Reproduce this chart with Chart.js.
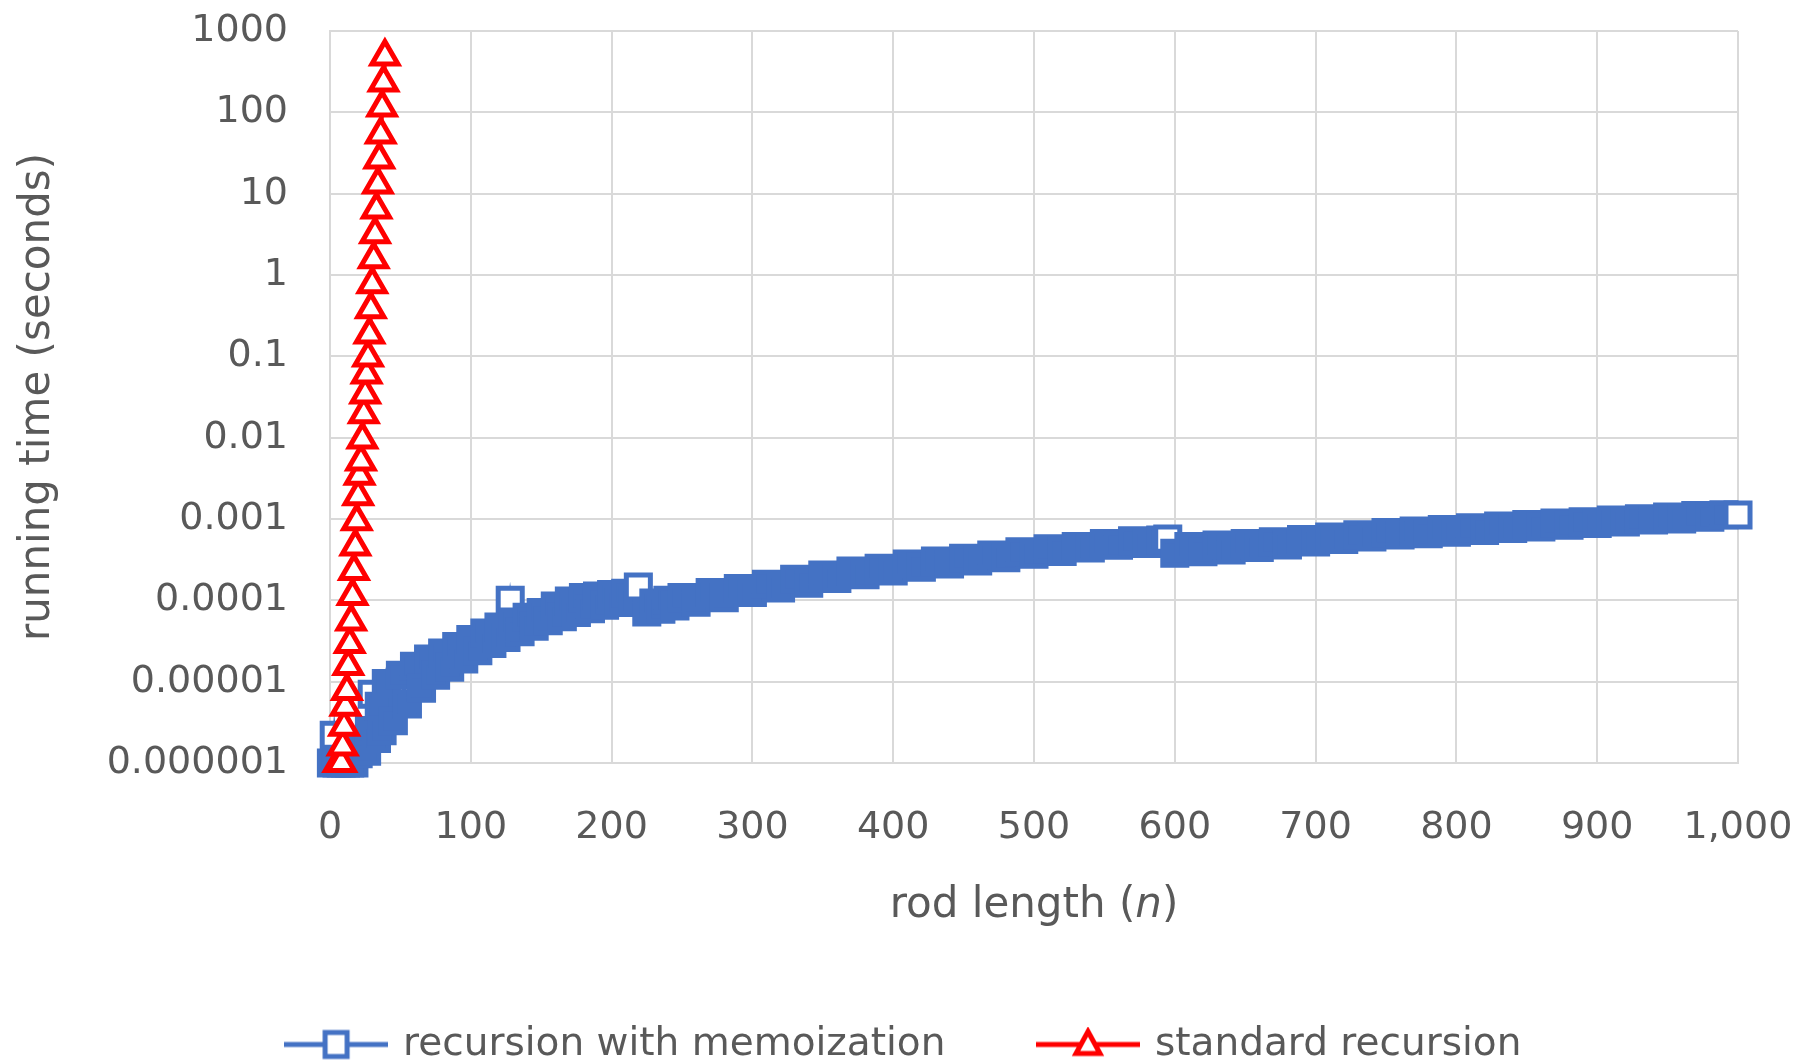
<!DOCTYPE html>
<html>
<head>
<meta charset="utf-8">
<title>Rod cutting running time</title>
<script src="https://cdn.jsdelivr.net/npm/chart.js@4.4.1/dist/chart.umd.min.js"></script>
<style>
  html, body { margin: 0; padding: 0; background: #ffffff; }
  canvas { display: block; }
</style>
</head>
<body>
<canvas id="chart" width="1810" height="1064"></canvas>
<script>
// recursion with memoization: rod length n and running time (s)
const memoN = [1, 3, 5, 8, 11, 14, 17, 20, 23, 26, 28, 30, 33, 35, 37,
  40, 45, 50, 55, 60, 65, 70, 75, 80, 85, 90, 95, 100, 105, 110, 115, 120, 125, 128, 130,
  135, 140, 145, 150, 155, 160, 165, 170, 175, 180, 185, 190, 195, 200, 205, 210, 215, 219,
  225, 230, 235, 240, 245, 250, 260, 270, 280, 290, 300, 310, 320, 330, 340, 350, 360, 370,
  380, 390, 400, 410, 420, 430, 440, 450, 460, 470, 480, 490, 500, 510, 520, 530, 540, 550,
  560, 570, 580, 590, 595, 600, 610, 620, 630, 640, 650, 660, 670, 680, 690, 700, 710, 720,
  730, 740, 750, 760, 770, 780, 790, 800, 810, 820, 830, 840, 850, 860, 870, 880, 890, 900,
  910, 920, 930, 940, 950, 960, 970, 980, 990, 1000];
const memoTime = [1e-6, 2.2e-6, 1e-6, 1e-6, 1e-6, 1e-6, 1e-6, 1.3e-6, 1.8e-6, 1.4e-6, 2.5e-6, 7e-6, 2e-6, 5e-6, 2.5e-6,
  9.5e-6, 3.3e-6, 1.2e-5, 5.3e-6, 1.55e-5, 8.3e-6, 1.9e-5, 1.2e-5, 2.25e-5, 1.5e-5, 2.7e-5, 1.9e-5, 3.3e-5, 2.4e-5, 3.95e-5, 2.95e-5, 4.7e-5, 3.5e-5, 1.0e-4, 5.4e-5,
  4.1e-5, 6.2e-5, 4.8e-5, 7.1e-5, 5.6e-5, 8.5e-5, 6.3e-5, 9.8e-5, 7.1e-5, 1.08e-4, 7.9e-5, 1.13e-4, 8.7e-5, 1.18e-4, 9.4e-5, 1.22e-4, 9.8e-5, 1.46e-4,
  7.2e-5, 9.3e-5, 7.8e-5, 1.0e-4, 8.5e-5, 1.08e-4, 9.5e-5, 1.25e-4, 1.08e-4, 1.4e-4, 1.25e-4, 1.58e-4, 1.42e-4, 1.82e-4, 1.62e-4, 2.05e-4, 1.85e-4, 2.3e-4,
  2.07e-4, 2.47e-4, 2.3e-4, 2.8e-4, 2.55e-4, 3.04e-4, 2.8e-4, 3.3e-4, 3.05e-4, 3.6e-4, 3.35e-4, 3.95e-4, 3.7e-4, 4.3e-4, 4.0e-4, 4.6e-4, 4.4e-4, 5.0e-4,
  4.75e-4, 5.4e-4, 5.0e-4, 5.5e-4, 5.66e-4, 3.8e-4, 4.6e-4, 3.95e-4, 4.8e-4, 4.15e-4, 5.0e-4, 4.45e-4, 5.25e-4, 4.8e-4, 5.6e-4, 5.2e-4, 6.0e-4, 5.6e-4,
  6.4e-4, 6.0e-4, 6.8e-4, 6.35e-4, 7.1e-4, 6.6e-4, 7.45e-4, 6.9e-4, 7.8e-4, 7.25e-4, 8.2e-4, 7.65e-4, 8.55e-4, 8.0e-4, 8.9e-4, 8.4e-4, 9.25e-4, 8.8e-4,
  9.7e-4, 9.2e-4, 1.01e-3, 9.7e-4, 1.06e-3, 1.0e-3, 1.1e-3, 1.05e-3, 1.13e-3, 1.12e-3];

// standard recursion
const stdN = [6, 7, 8, 9, 10, 11, 12, 13, 14, 15, 16, 17, 18, 19, 20, 21, 22, 23,
  24, 25, 26, 27, 28, 29, 30, 31, 32, 33, 34, 35, 36, 37, 38, 39];
const stdTime = [1e-6, 1e-6, 1.0e-6, 1.6e-6, 2.8e-6, 4.9e-6, 7.7e-6, 1.56e-5, 2.9e-5, 5.5e-5, 1.13e-4, 2.3e-4,
  4.6e-4, 9.4e-4, 1.9e-3, 3.4e-3, 5.1e-3, 9.5e-3, 1.94e-2, 3.4e-2, 6.0e-2, 9.7e-2, 0.186, 0.378,
  0.77, 1.56, 3.16, 6.4, 13.0, 26.3, 53.4, 115, 232, 485];

const xTickValues = [0, 100, 200, 300, 400, 500, 600, 700, 800, 900, 1000];
const xTickLabels = ['0', '100', '200', '300', '400', '500', '600', '700', '800', '900', '1,000'];
const yTickValues = [0.000001, 0.00001, 0.0001, 0.001, 0.01, 0.1, 1, 10, 100, 1000];
const yTickLabels = ['0.000001', '0.00001', '0.0001', '0.001', '0.01', '0.1', '1', '10', '100', '1000'];

const FONT = '"DejaVu Sans", sans-serif';
const TEXT = '#595959';
const GRID = '#d9d9d9';
const BLUE = '#4472c4';
const RED = '#ff0000';

// a marker only shows its white inside where it sticks out above the points after it
function memoFill(ctx) {
    const i = ctx.dataIndex;
    if (i === undefined) return BLUE;
    const ys = ctx.chart.scales.y;
    const py = ys.getPixelForValue(memoTime[i]);
    for (let j = i + 1; j <= Math.min(i + 2, memoN.length - 1); j++) {
        if (ys.getPixelForValue(memoTime[j]) - py < 7) return BLUE;
    }
    return '#ffffff';
}

function legendIcon(color, shape) {
    const c = document.createElement('canvas');
    c.width = 104;
    c.height = 36;
    const g = c.getContext('2d');
    g.strokeStyle = color;
    g.lineWidth = 5;
    g.beginPath();
    g.moveTo(0, 18);
    g.lineTo(104, 18);
    g.stroke();
    g.fillStyle = '#ffffff';
    g.lineJoin = 'miter';
    g.beginPath();
    if (shape === 'rect') {
        g.rect(41, 6, 22, 24);
    } else {
        g.moveTo(52, 5);
        g.lineTo(64, 27);
        g.lineTo(40, 27);
        g.closePath();
    }
    g.fill();
    g.stroke();
    return c;
}
const legendIcons = [legendIcon(BLUE, 'rect'), legendIcon(RED, 'triangle')];

// x axis title with the italic n
const xTitlePlugin = {
    id: 'xTitle',
    afterDraw(chart) {
        const { ctx, chartArea } = chart;
        const parts = [['rod length (', ''], ['n', 'italic '], [')', '']];
        ctx.save();
        ctx.fillStyle = TEXT;
        ctx.textBaseline = 'middle';
        ctx.textAlign = 'left';
        let total = 0;
        const widths = parts.map(p => {
            ctx.font = p[1] + '42px ' + FONT;
            const w = ctx.measureText(p[0]).width;
            total += w;
            return w;
        });
        let x = (chartArea.left + chartArea.right) / 2 - total / 2;
        const y = chartArea.bottom + 143;
        parts.forEach((p, k) => {
            ctx.font = p[1] + '42px ' + FONT;
            ctx.fillText(p[0], x, y);
            x += widths[k];
        });
        ctx.restore();
    }
};

const ctx = document.getElementById('chart').getContext('2d');
new Chart(ctx, {
    type: 'scatter',
    data: {
        datasets: [{
            label: 'recursion with memoization',
            data: memoN.map((n, i) => ({ x: n, y: memoTime[i] })),
            showLine: true,
            borderColor: BLUE,
            borderWidth: 4.5,
            pointStyle: 'rect',
            pointRadius: 17,
            pointHoverRadius: 17,
            pointBorderWidth: 5,
            pointBorderColor: BLUE,
            pointBackgroundColor: memoFill,
            clip: false,
            order: 1
        }, {
            label: 'standard recursion',
            data: stdN.map((n, i) => ({ x: n, y: stdTime[i] })),
            showLine: true,
            borderColor: RED,
            borderWidth: 4.5,
            pointStyle: 'triangle',
            pointRadius: 15,
            pointHoverRadius: 15,
            pointBorderWidth: 5,
            pointBorderColor: RED,
            pointBackgroundColor: '#ffffff',
            clip: false,
            order: 0
        }]
    },
    options: {
        responsive: false,
        animation: false,
        devicePixelRatio: 1,
        events: [],
        layout: { padding: { top: 31, right: 0, bottom: -10, left: 0 } },
        plugins: {
            tooltip: { enabled: false },
            legend: {
                position: 'bottom',
                labels: {
                    usePointStyle: true,
                    pointStyleWidth: 95,
                    padding: 95,
                    color: TEXT,
                    font: { size: 39, family: FONT },
                    generateLabels: chart => chart.data.datasets.map((ds, i) => ({
                        text: ds.label,
                        pointStyle: legendIcons[i],
                        fillStyle: 'transparent',
                        strokeStyle: 'transparent',
                        lineWidth: 0,
                        fontColor: TEXT,
                        hidden: false,
                        datasetIndex: i
                    }))
                }
            }
        },
        scales: {
            x: {
                type: 'linear',
                min: 0,
                max: 1000,
                grid: { color: GRID, lineWidth: 2, drawTicks: false },
                border: { color: GRID, width: 2 },
                ticks: {
                    padding: 42,
                    color: TEXT,
                    autoSkip: false,
                    maxRotation: 0,
                    font: { size: 38, family: FONT },
                    callback: (v, i) => xTickLabels[i]
                },
                afterBuildTicks: s => { s.ticks = xTickValues.map(v => ({ value: v })); },
                afterFit: s => { s.height = 167; s.paddingRight = 72; }
            },
            y: {
                type: 'logarithmic',
                min: 0.000001,
                max: 1000,
                grid: { color: GRID, lineWidth: 2, drawTicks: false },
                border: { color: GRID, width: 2 },
                ticks: {
                    padding: 42,
                    color: TEXT,
                    autoSkip: false,
                    font: { size: 38, family: FONT },
                    callback: (v, i) => yTickLabels[i]
                },
                title: {
                    display: true,
                    text: 'running time (seconds)',
                    color: TEXT,
                    font: { size: 42, family: FONT },
                    padding: { top: 13, bottom: 0 }
                },
                afterBuildTicks: s => { s.ticks = yTickValues.map(v => ({ value: v })); },
                afterFit: s => { s.width = 330; s.paddingTop = 0; s.paddingBottom = 0; }
            }
        }
    },
    plugins: [xTitlePlugin]
});
</script>
</body>
</html>
